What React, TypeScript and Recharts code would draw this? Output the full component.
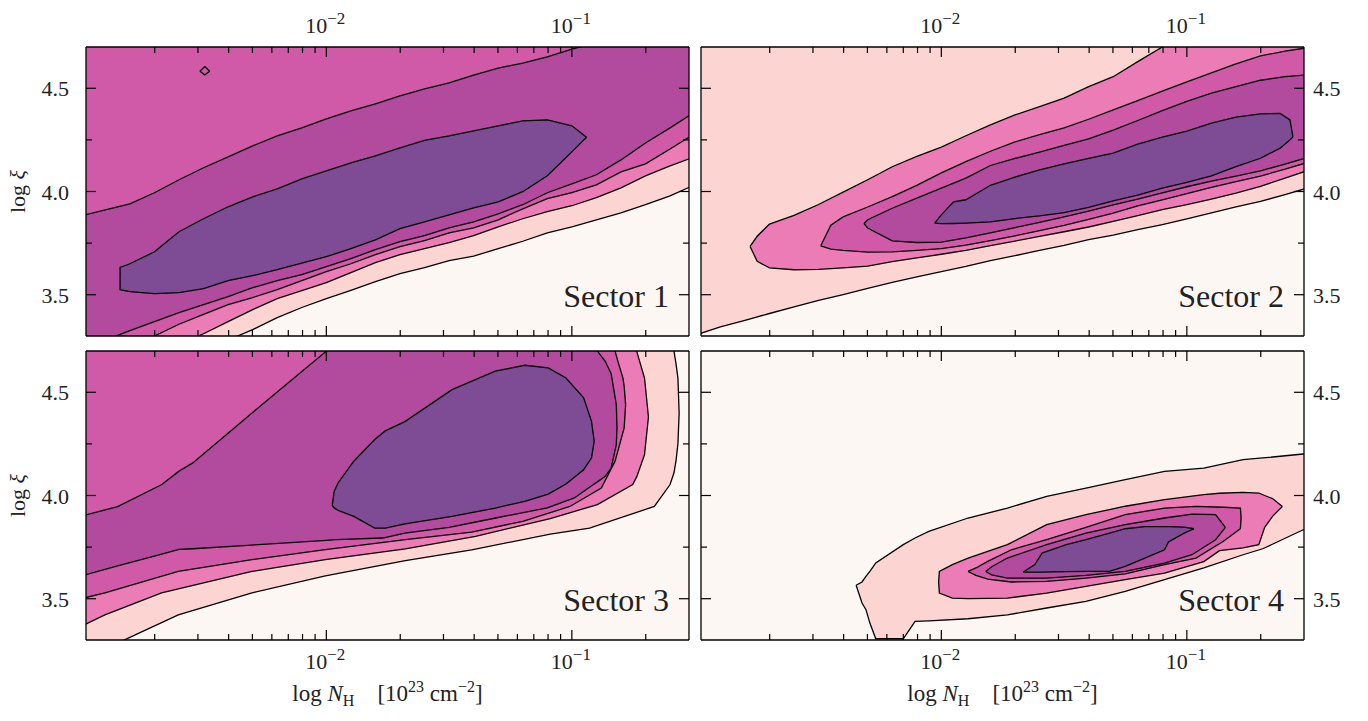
import React from 'react';
import { ComposedChart, Area, XAxis, YAxis, CartesianGrid } from 'recharts';

const FONT = "'Liberation Serif', 'DejaVu Serif', serif";
const INK = '#222';
const textStyle: React.CSSProperties = { fontFamily: FONT };

// axes
const X_DOMAIN: [number, number] = [0.00105, 0.3];
const Y_DOMAIN: [number, number] = [3.3, 4.7];
const ABOVE = 4.85; // contour runs past the top of the frame

const xTicks = [0.002, 0.003, 0.004, 0.005, 0.006, 0.007, 0.008, 0.009, 0.01, 0.02, 0.03, 0.04, 0.05, 0.06, 0.07, 0.08, 0.09, 0.1, 0.2];
const xMajorTicks = [0.01, 0.1];
const xTickExponent: Record<string, string> = { '0.01': '\u22122', '0.1': '\u22121' };
const yTicks = [3.5, 3.75, 4.0, 4.25, 4.5];
const yMajorTicks = [3.5, 4.0, 4.5];

// fill colour per contour level, lowest first
const levelColors = ['#fdf7f3', '#fcd5d3', '#ec7cb5', '#d05aa7', '#b24a9d', '#7e4c94'];

// log10 N_H sample grid used by the long open contours
const gridLogN = [-3.0, -2.9, -2.8, -2.7, -2.6, -2.5, -2.4, -2.3, -2.2, -2.1, -2.0, -1.9, -1.8, -1.7, -1.6, -1.5, -1.4, -1.3, -1.2, -1.1, -1.0, -0.9, -0.8, -0.7, -0.6, -0.5];

// ---- Sector 1 ----
const s1Edge1 = [2.98, 3.03, 3.08, 3.13, 3.18, 3.23, 3.28, 3.331, 3.389, 3.438, 3.481, 3.521, 3.563, 3.602, 3.631, 3.665, 3.687, 3.723, 3.759, 3.8, 3.829, 3.863, 3.897, 3.936, 3.979, 4.032];
const s1Edge2 = [3.06, 3.11, 3.16, 3.21, 3.26, 3.311, 3.37, 3.428, 3.481, 3.52, 3.559, 3.607, 3.655, 3.694, 3.723, 3.752, 3.786, 3.829, 3.868, 3.902, 3.931, 3.97, 4.018, 4.076, 4.124, 4.168];
const s1Edge3 = [3.15, 3.2, 3.25, 3.3, 3.357, 3.405, 3.452, 3.486, 3.525, 3.568, 3.612, 3.65, 3.694, 3.733, 3.762, 3.8, 3.824, 3.863, 3.916, 3.965, 3.994, 4.032, 4.095, 4.134, 4.206, 4.279];
const s1Edge4 = [3.23, 3.28, 3.326, 3.37, 3.413, 3.452, 3.491, 3.534, 3.568, 3.597, 3.636, 3.675, 3.718, 3.757, 3.786, 3.824, 3.853, 3.892, 3.936, 3.994, 4.037, 4.081, 4.153, 4.235, 4.308, 4.385];
const s1Edge4Top = [3.882, 3.911, 3.94, 3.994, 4.057, 4.115, 4.168, 4.221, 4.269, 4.308, 4.352, 4.39, 4.424, 4.463, 4.497, 4.526, 4.564, 4.598, 4.622, 4.652, 4.69, 4.72, 4.76, 4.79, 4.82, 4.85];
const s1CoreLogN = [-2.84, -2.84, -2.8, -2.7, -2.6, -2.5, -2.4, -2.3, -2.2, -2.1, -2.0, -1.9, -1.8, -1.7, -1.6, -1.5, -1.4, -1.3, -1.2, -1.1, -1.0, -0.94];
const s1CoreLower = [3.578, 3.524, 3.515, 3.505, 3.51, 3.529, 3.568, 3.592, 3.621, 3.653, 3.684, 3.723, 3.766, 3.82, 3.853, 3.887, 3.921, 3.95, 3.999, 4.076, 4.192, 4.263];
const s1CoreUpper = [3.578, 3.632, 3.65, 3.708, 3.805, 3.868, 3.926, 3.974, 4.013, 4.061, 4.1, 4.139, 4.173, 4.211, 4.248, 4.269, 4.294, 4.318, 4.342, 4.347, 4.318, 4.263];
const s1IslandLogN = [-2.515, -2.495, -2.475];
const s1IslandLower = [4.583, 4.565, 4.583];
const s1IslandUpper = [4.583, 4.605, 4.583];

// ---- Sector 2 ----
const s2Edge1 = [3.305, 3.344, 3.376, 3.409, 3.441, 3.472, 3.501, 3.531, 3.56, 3.586, 3.612, 3.637, 3.665, 3.689, 3.715, 3.739, 3.767, 3.789, 3.815, 3.839, 3.867, 3.896, 3.925, 3.952, 3.985, 4.02];
const s2Blob2LogN = [-2.779, -2.75, -2.7, -2.6, -2.5, -2.4, -2.3, -2.2, -2.1, -2.0, -1.9, -1.8, -1.7, -1.6, -1.5, -1.4, -1.3, -1.2, -1.1, -1.0, -0.9, -0.8, -0.7, -0.6, -0.5];
const s2Blob2Lower = [3.734, 3.662, 3.63, 3.621, 3.623, 3.63, 3.638, 3.66, 3.678, 3.696, 3.715, 3.738, 3.76, 3.783, 3.805, 3.828, 3.855, 3.883, 3.912, 3.936, 3.963, 3.992, 4.025, 4.065, 4.105];
const s2Blob2Upper = [3.734, 3.783, 3.842, 3.884, 3.937, 3.997, 4.057, 4.12, 4.17, 4.215, 4.27, 4.323, 4.371, 4.411, 4.452, 4.508, 4.556, 4.629, 4.7, 4.76, 4.82, 4.88, 4.94, 5.0, 5.05];
const s2Blob3LogN = [-2.491, -2.45, -2.4, -2.3, -2.2, -2.1, -2.0, -1.9, -1.8, -1.7, -1.6, -1.5, -1.4, -1.3, -1.2, -1.1, -1.0, -0.9, -0.8, -0.7, -0.6, -0.5];
const s2Blob3Lower = [3.737, 3.721, 3.715, 3.706, 3.708, 3.715, 3.723, 3.74, 3.762, 3.785, 3.81, 3.836, 3.865, 3.895, 3.93, 3.96, 3.99, 4.02, 4.048, 4.075, 4.108, 4.144];
const s2Blob3Upper = [3.737, 3.837, 3.877, 3.925, 3.975, 4.03, 4.09, 4.145, 4.195, 4.24, 4.275, 4.308, 4.35, 4.395, 4.44, 4.486, 4.531, 4.575, 4.618, 4.657, 4.68, 4.698];
const s2Blob4LogN = [-2.315, -2.3, -2.2, -2.1, -2.0, -1.9, -1.8, -1.7, -1.6, -1.5, -1.4, -1.3, -1.2, -1.1, -1.0, -0.9, -0.8, -0.7, -0.6, -0.5];
const s2Blob4Lower = [3.844, 3.823, 3.761, 3.753, 3.755, 3.775, 3.8, 3.825, 3.85, 3.877, 3.905, 3.935, 3.963, 3.993, 4.023, 4.05, 4.075, 4.1, 4.133, 4.168];
const s2Blob4Upper = [3.844, 3.863, 3.919, 3.968, 4.016, 4.065, 4.126, 4.16, 4.191, 4.224, 4.255, 4.297, 4.344, 4.392, 4.437, 4.476, 4.508, 4.539, 4.556, 4.566];
const s2CoreLogN = [-2.027, -2.0, -1.95, -1.9, -1.8, -1.7, -1.6, -1.5, -1.4, -1.3, -1.2, -1.1, -1.0, -0.9, -0.8, -0.7, -0.62, -0.58, -0.568];
const s2CoreLower = [3.847, 3.844, 3.845, 3.847, 3.853, 3.869, 3.882, 3.898, 3.923, 3.954, 3.983, 4.016, 4.044, 4.076, 4.121, 4.161, 4.21, 4.25, 4.265];
const s2CoreUpper = [3.847, 3.887, 3.95, 3.96, 4.03, 4.07, 4.105, 4.134, 4.161, 4.186, 4.229, 4.263, 4.292, 4.331, 4.36, 4.376, 4.378, 4.347, 4.265];

// ---- Sector 3 ----
const s3Edge1LogN = [-3.0, -2.807, -2.603, -2.303, -2.004, -1.678, -1.408, -1.088, -0.928, -0.664, -0.6, -0.584, -0.576, -0.568, -0.563];
const s3Edge1Lower = [3.2, 3.309, 3.422, 3.528, 3.611, 3.684, 3.737, 3.813, 3.842, 3.947, 4.053, 4.11, 4.166, 4.25, 4.4];
const s3Edge1Upper = [4.85, 4.85, 4.85, 4.85, 4.85, 4.85, 4.85, 4.85, 4.85, 4.85, 4.85, 4.699, 4.64, 4.569, 4.4];
const s3Edge2LogN = [-3.0, -2.902, -2.671, -2.303, -2.004, -1.678, -1.392, -1.088, -0.896, -0.752, -0.736, -0.704, -0.688];
const s3Edge2Lower = [3.365, 3.422, 3.528, 3.632, 3.689, 3.741, 3.802, 3.888, 3.956, 4.053, 4.09, 4.198, 4.38];
const s3Edge2Upper = [4.85, 4.85, 4.85, 4.85, 4.85, 4.85, 4.85, 4.85, 4.85, 4.85, 4.699, 4.569, 4.38];
const s3Edge3LogN = [-3.0, -2.902, -2.603, -2.303, -2.004, -1.678, -1.408, -1.2, -1.008, -0.88, -0.824, -0.81, -0.792, -0.787, -0.781];
const s3Edge3Lower = [3.5, 3.528, 3.632, 3.689, 3.738, 3.786, 3.823, 3.875, 3.947, 4.036, 4.166, 4.227, 4.305, 4.327, 4.44];
const s3Edge3Upper = [4.85, 4.85, 4.85, 4.85, 4.85, 4.85, 4.85, 4.85, 4.85, 4.85, 4.699, 4.64, 4.569, 4.53, 4.44];
const s3Blob4LogN = [-3.0, -2.85, -2.67, -2.6, -2.544, -2.37, -2.21, -2.0, -1.96, -1.77, -1.68, -1.5, -1.31, -1.1, -0.99, -0.912, -0.896, -0.864, -0.84, -0.819, -0.816];
const s3Blob4Lower = [3.61, 3.659, 3.716, 3.739, 3.742, 3.755, 3.767, 3.783, 3.786, 3.794, 3.818, 3.846, 3.891, 3.94, 3.988, 4.053, 4.066, 4.093, 4.133, 4.246, 4.327];
const s3Blob4Upper = [3.9, 3.946, 4.053, 4.118, 4.158, 4.332, 4.492, 4.699, 4.85, 4.85, 4.85, 4.85, 4.85, 4.85, 4.85, 4.85, 4.7, 4.65, 4.59, 4.44, 4.327];
const s3CoreLogN = [-1.976, -1.968, -1.952, -1.888, -1.803, -1.76, -1.68, -1.488, -1.312, -1.192, -1.096, -1.024, -0.952, -0.92, -0.909];
const s3CoreLower = [3.952, 3.94, 3.928, 3.899, 3.842, 3.842, 3.863, 3.899, 3.939, 3.972, 4.007, 4.056, 4.125, 4.182, 4.263];
const s3CoreUpper = [3.952, 4.02, 4.061, 4.166, 4.271, 4.313, 4.358, 4.513, 4.602, 4.631, 4.618, 4.569, 4.473, 4.359, 4.263];

// ---- Sector 4 ----
const s4Blob1LogN = [-2.347, -2.323, -2.307, -2.291, -2.267, -2.155, -2.107, -2.051, -1.891, -1.731, -1.571, -1.411, -1.251, -1.091, -0.931, -0.771, -0.691, -0.526, -0.5];
const s4Blob1Lower = [3.565, 3.479, 3.447, 3.382, 3.306, 3.306, 3.39, 3.393, 3.403, 3.422, 3.455, 3.487, 3.536, 3.592, 3.649, 3.713, 3.742, 3.834, 3.847];
const s4Blob1Upper = [3.565, 3.581, 3.608, 3.632, 3.673, 3.762, 3.794, 3.826, 3.891, 3.939, 3.996, 4.036, 4.077, 4.117, 4.133, 4.174, 4.182, 4.201, 4.204];
const s4Blob2LogN = [-2.011, -2.008, -1.955, -1.891, -1.731, -1.571, -1.411, -1.251, -1.091, -0.931, -0.867, -0.771, -0.707, -0.683, -0.651, -0.611];
const s4Blob2Lower = [3.581, 3.527, 3.503, 3.5, 3.503, 3.527, 3.56, 3.592, 3.624, 3.68, 3.733, 3.746, 3.762, 3.846, 3.899, 3.947];
const s4Blob2Upper = [3.581, 3.632, 3.665, 3.697, 3.762, 3.859, 3.907, 3.948, 3.98, 4.004, 4.011, 4.015, 4.012, 4.0, 3.985, 3.947];
const s4Blob3LogN = [-1.891, -1.859, -1.811, -1.715, -1.571, -1.411, -1.251, -1.091, -0.963, -0.851, -0.782, -0.779];
const s4Blob3Lower = [3.632, 3.613, 3.595, 3.581, 3.584, 3.6, 3.62, 3.665, 3.697, 3.778, 3.839, 3.891];
const s4Blob3Upper = [3.632, 3.649, 3.681, 3.737, 3.786, 3.846, 3.907, 3.939, 3.947, 3.943, 3.939, 3.891];
const s4Blob4LogN = [-1.819, -1.795, -1.731, -1.571, -1.411, -1.251, -1.091, -0.979, -0.883, -0.843];
const s4Blob4Lower = [3.632, 3.616, 3.6, 3.6, 3.613, 3.632, 3.672, 3.713, 3.786, 3.846];
const s4Blob4Upper = [3.632, 3.655, 3.697, 3.762, 3.818, 3.859, 3.891, 3.91, 3.907, 3.846];
const s4CoreLogN = [-1.667, -1.619, -1.59, -1.491, -1.411, -1.315, -1.251, -1.171, -1.091, -1.075, -1.011, -0.971];
const s4CoreLower = [3.629, 3.629, 3.629, 3.631, 3.632, 3.632, 3.657, 3.697, 3.737, 3.775, 3.818, 3.839];
const s4CoreUpper = [3.629, 3.665, 3.721, 3.762, 3.786, 3.818, 3.839, 3.849, 3.849, 3.849, 3.847, 3.839];

type Band = { level: number; logN: number[]; lower: number[]; upper: number[] | number };

const toRows = (b: Band) =>
  b.logN.map((v, i) => ({
    nh: Math.pow(10, v),
    range: [b.lower[i], typeof b.upper === 'number' ? b.upper : b.upper[i]],
  }));

const sector1: Band[] = [
  { level: 1, logN: gridLogN, lower: s1Edge1, upper: ABOVE },
  { level: 2, logN: gridLogN, lower: s1Edge2, upper: ABOVE },
  { level: 3, logN: gridLogN, lower: s1Edge3, upper: ABOVE },
  { level: 4, logN: gridLogN, lower: s1Edge4, upper: s1Edge4Top },
  { level: 5, logN: s1CoreLogN, lower: s1CoreLower, upper: s1CoreUpper },
  { level: 3, logN: s1IslandLogN, lower: s1IslandLower, upper: s1IslandUpper },
];
const sector2: Band[] = [
  { level: 1, logN: gridLogN, lower: s2Edge1, upper: ABOVE },
  { level: 2, logN: s2Blob2LogN, lower: s2Blob2Lower, upper: s2Blob2Upper },
  { level: 3, logN: s2Blob3LogN, lower: s2Blob3Lower, upper: s2Blob3Upper },
  { level: 4, logN: s2Blob4LogN, lower: s2Blob4Lower, upper: s2Blob4Upper },
  { level: 5, logN: s2CoreLogN, lower: s2CoreLower, upper: s2CoreUpper },
];
const sector3: Band[] = [
  { level: 1, logN: s3Edge1LogN, lower: s3Edge1Lower, upper: s3Edge1Upper },
  { level: 2, logN: s3Edge2LogN, lower: s3Edge2Lower, upper: s3Edge2Upper },
  { level: 3, logN: s3Edge3LogN, lower: s3Edge3Lower, upper: s3Edge3Upper },
  { level: 4, logN: s3Blob4LogN, lower: s3Blob4Lower, upper: s3Blob4Upper },
  { level: 5, logN: s3CoreLogN, lower: s3CoreLower, upper: s3CoreUpper },
];
const sector4: Band[] = [
  { level: 1, logN: s4Blob1LogN, lower: s4Blob1Lower, upper: s4Blob1Upper },
  { level: 2, logN: s4Blob2LogN, lower: s4Blob2Lower, upper: s4Blob2Upper },
  { level: 3, logN: s4Blob3LogN, lower: s4Blob3Lower, upper: s4Blob3Upper },
  { level: 4, logN: s4Blob4LogN, lower: s4Blob4Lower, upper: s4Blob4Upper },
  { level: 5, logN: s4CoreLogN, lower: s4CoreLower, upper: s4CoreUpper },
];

// layout
const PLOT_W = 603;
const PLOT_H = 289;
const AX_W = 80;
const AX_H = 50;

const XTick = (props: any) => {
  const { x, y, payload, side, showLabel } = props;
  const v = payload.value;
  const major = xMajorTicks.includes(v);
  const len = major ? 10 : 6;
  const sgn = side === 'bottom' ? -1 : 1;
  return (
    <g>
      <line x1={x} y1={y} x2={x} y2={y + sgn * len} stroke="#000" strokeWidth={1.2} />
      {showLabel && major && (
        <text x={x - 1} y={side === 'bottom' ? y + 29 : y - 14} textAnchor="middle" style={textStyle} fontSize={22} fill={INK}>
          10<tspan fontSize={17} dy={-9}>{xTickExponent[String(v)]}</tspan>
        </text>
      )}
    </g>
  );
};

const YTick = (props: any) => {
  const { x, y, payload, side, showLabel } = props;
  const v = payload.value;
  const major = yMajorTicks.includes(v);
  const len = major ? 10 : 6;
  const sgn = side === 'left' ? 1 : -1;
  return (
    <g>
      <line x1={x} y1={y} x2={x + sgn * len} y2={y} stroke="#000" strokeWidth={1.2} />
      {showLabel && major && (
        <text
          x={side === 'left' ? x - 17 : x + 9}
          y={y + 8}
          textAnchor={side === 'left' ? 'end' : 'start'}
          style={textStyle}
          fontSize={22}
          fill={INK}
        >
          {v.toFixed(1)}
        </text>
      )}
    </g>
  );
};

interface PanelProps {
  left: number;
  top: number;
  bands: Band[];
  xLabels: 'top' | 'bottom';
  yLabels: 'left' | 'right';
}

const frame = { stroke: '#000', strokeWidth: 1.3 };

const Panel: React.FC<PanelProps> = ({ left, top, bands, xLabels, yLabels }) => (
  <div style={{ position: 'absolute', left: left - AX_W, top: top - AX_H }}>
    <ComposedChart width={PLOT_W + 2 * AX_W} height={PLOT_H + 2 * AX_H} margin={{ top: 0, right: 0, bottom: 0, left: 0 }}>
      <CartesianGrid xAxisId="b" yAxisId="l" horizontal={false} vertical={false} fill={levelColors[0]} fillOpacity={1} />
      {bands.map((b, i) => (
        <Area
          key={i}
          xAxisId="b"
          yAxisId="l"
          data={toRows(b)}
          dataKey="range"
          type="linear"
          fill={levelColors[b.level]}
          fillOpacity={1}
          stroke="#000"
          strokeWidth={1.3}
          dot={false}
          activeDot={false}
          isAnimationActive={false}
        />
      ))}
      <XAxis
        xAxisId="b"
        orientation="bottom"
        dataKey="nh"
        type="number"
        scale="log"
        domain={X_DOMAIN}
        allowDataOverflow
        ticks={xTicks}
        interval={0}
        height={AX_H}
        tickSize={0}
        tickMargin={0}
        tickLine={false}
        axisLine={frame}
        tick={(p: any) => <XTick {...p} side="bottom" showLabel={xLabels === 'bottom'} />}
      />
      <XAxis
        xAxisId="t"
        orientation="top"
        dataKey="nh"
        type="number"
        scale="log"
        domain={X_DOMAIN}
        allowDataOverflow
        ticks={xTicks}
        interval={0}
        height={AX_H}
        tickSize={0}
        tickMargin={0}
        tickLine={false}
        axisLine={frame}
        tick={(p: any) => <XTick {...p} side="top" showLabel={xLabels === 'top'} />}
      />
      <YAxis
        yAxisId="l"
        orientation="left"
        type="number"
        domain={Y_DOMAIN}
        allowDataOverflow
        ticks={yTicks}
        interval={0}
        width={AX_W}
        tickSize={0}
        tickMargin={0}
        tickLine={false}
        axisLine={frame}
        tick={(p: any) => <YTick {...p} side="left" showLabel={yLabels === 'left'} />}
      />
      <YAxis
        yAxisId="r"
        orientation="right"
        type="number"
        domain={Y_DOMAIN}
        allowDataOverflow
        ticks={yTicks}
        interval={0}
        width={AX_W}
        tickSize={0}
        tickMargin={0}
        tickLine={false}
        axisLine={frame}
        tick={(p: any) => <YTick {...p} side="right" showLabel={yLabels === 'right'} />}
      />
    </ComposedChart>
  </div>
);

const panels = [
  { left: 86, top: 47, bands: sector1, xLabels: 'top' as const, yLabels: 'left' as const, name: 'Sector 1' },
  { left: 701, top: 47, bands: sector2, xLabels: 'top' as const, yLabels: 'right' as const, name: 'Sector 2' },
  { left: 86, top: 351, bands: sector3, xLabels: 'bottom' as const, yLabels: 'left' as const, name: 'Sector 3' },
  { left: 701, top: 351, bands: sector4, xLabels: 'bottom' as const, yLabels: 'right' as const, name: 'Sector 4' },
];

const XTitle = ({ cx }: { cx: number }) => (
  <text x={cx} y={701} textAnchor="middle" style={textStyle} fontSize={23} fill={INK}>
    {'log '}
    <tspan fontStyle="italic">N</tspan>
    <tspan fontSize={16} dy={5}>H</tspan>
    <tspan dy={-5}>{'\u2003[10'}</tspan>
    <tspan fontSize={16} dy={-9}>23</tspan>
    <tspan dy={9}>{' cm'}</tspan>
    <tspan fontSize={16} dy={-9}>{'\u22122'}</tspan>
    <tspan dy={9}>]</tspan>
  </text>
);

const YTitle = ({ cy }: { cy: number }) => (
  <text x={25} y={cy} transform={`rotate(-90, 25, ${cy})`} textAnchor="middle" style={textStyle} fontSize={22} fill={INK}>
    {'log '}
    <tspan fontStyle="italic">{'\u03BE'}</tspan>
  </text>
);

export default function App() {
  return (
    <div style={{ position: 'absolute', left: 0, top: 0, width: 1368, height: 721, background: '#fff', overflow: 'hidden' }}>
      {panels.map((p) => (
        <Panel key={p.name} left={p.left} top={p.top} bands={p.bands} xLabels={p.xLabels} yLabels={p.yLabels} />
      ))}
      <svg width={1368} height={721} style={{ position: 'absolute', left: 0, top: 0, pointerEvents: 'none' }}>
        {panels.map((p) => (
          <text key={p.name} x={p.left + PLOT_W - 20} y={p.top + PLOT_H - 29} textAnchor="end" style={textStyle} fontSize={32} fill={INK}>
            {p.name}
          </text>
        ))}
        <XTitle cx={387.5} />
        <XTitle cx={1002.5} />
        <YTitle cy={191.5} />
        <YTitle cy={495.5} />
      </svg>
    </div>
  );
}
